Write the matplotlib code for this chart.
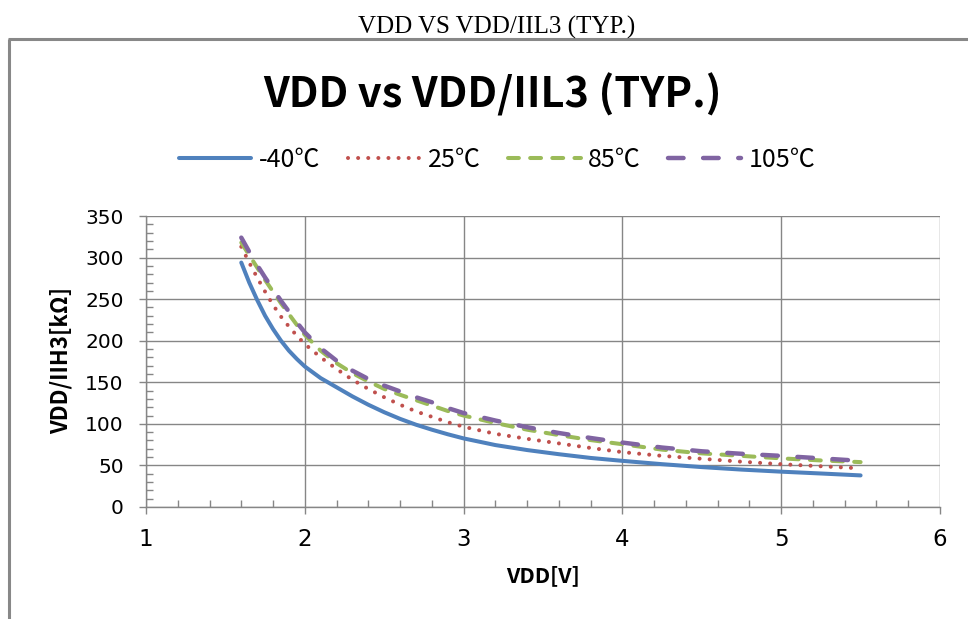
import matplotlib
matplotlib.use("Agg")
import matplotlib.pyplot as plt
from matplotlib.ticker import MultipleLocator
from matplotlib.lines import Line2D

# ---- data ----
vdd = [1.6, 1.65, 1.7, 1.75, 1.8, 1.85, 1.9, 1.95, 2.0, 2.1, 2.2, 2.3, 2.4,
       2.5, 2.6, 2.7, 2.8, 2.9, 3.0, 3.2, 3.4, 3.6, 3.8, 4.0, 4.25, 4.5,
       4.75, 5.0, 5.25, 5.5]
r_m40 = [294, 270, 249, 230, 214, 200, 188, 178, 169, 155, 144, 133, 123,
         114, 106, 99, 93, 87.5, 82.5, 74.5, 68.5, 63.5, 59, 55.5, 51.5, 48,
         45, 42.5, 40.3, 38]
r_25 = [313, 294, 276, 259, 243, 229, 217, 206, 196, 180, 166, 153, 142,
        132, 123, 115, 108.5, 102, 96.5, 88, 82, 76.5, 71, 66, 61.5, 58,
        54.5, 51.5, 49, 46.5]
r_85 = [318, 303, 288, 273, 259, 245, 232, 219, 207, 188, 173, 161, 151,
        142, 135, 128.5, 122, 115.5, 110, 101, 93, 86.5, 80.5, 75.5, 69,
        64.5, 61.5, 58.5, 56, 54]
r_105 = [324, 307, 291, 276, 262, 248, 235, 222, 210, 191, 176, 164, 154,
         146, 139, 132, 126, 119, 113, 104, 96, 89, 83, 77.5, 71.5, 67,
         64, 61.5, 58.5, 55.5]
labels = ["-40℃", "25℃", "85℃", "105℃"]
colors = ["#4F81BD", "#C0504D", "#9BBB59", "#8064A2"]
xticks = [1, 2, 3, 4, 5, 6]
yticks = [0, 50, 100, 150, 200, 250, 300, 350]

W, H = 968, 619
fig = plt.figure(figsize=(W / 100, H / 100), dpi=100)
gray = "#868686"

# outer page title and chart frame
fig.text(497 / W, 1 - 27 / H, "VDD VS VDD/IIL3 (TYP.)", ha="center", va="center",
         family="Liberation Serif", fontsize=18)
fig.add_artist(Line2D([9 / W, 9 / W], [0, 1 - 38.5 / H], transform=fig.transFigure,
                      color="#888888", lw=2.2, solid_capstyle="butt"))
fig.add_artist(Line2D([7.5 / W, 1], [1 - 38.5 / H, 1 - 38.5 / H], transform=fig.transFigure,
                      color="#888888", lw=2.2, solid_capstyle="butt"))

# chart title
fig.text(492 / W, 1 - 95 / H, "VDD vs VDD/IIL3 (TYP.)", ha="center", va="center",
         family=["Noto Sans CJK KR", "DejaVu Sans"], fontweight="bold", fontsize=30)

ax = fig.add_axes([146 / W, 1 - 507 / H, (940 - 146) / W, (507 - 216) / H])
series = [r_m40, r_25, r_85, r_105]
styles = [
    dict(lw=2.9, linestyle="-", solid_capstyle="round", solid_joinstyle="round"),
    dict(lw=2.9, linestyle=(0, (0.01, 2.5)), dash_capstyle="round"),
    dict(lw=2.9, linestyle=(0, (2.7, 2.8)), dash_capstyle="round"),
    dict(lw=3.2, linestyle=(0, (3.5, 4.4)), dash_capstyle="round"),
]
handles = []
for ys, c, lab, st in zip(series, colors, labels, styles):
    h, = ax.plot(vdd, ys, color=c, label=lab, **st)
    handles.append(h)

ax.set_xlim(1, 6)
ax.set_ylim(0, 350)
ax.set_xticks(xticks)
ax.set_yticks(yticks)
ax.xaxis.set_minor_locator(MultipleLocator(0.2))
ax.yaxis.set_minor_locator(MultipleLocator(10))
ax.grid(True, which="major", color=gray, lw=1.0)
ax.set_axisbelow(True)
for s in ["top", "right"]:
    ax.spines[s].set_visible(False)
for s in ["left", "bottom"]:
    ax.spines[s].set_color(gray)
    ax.spines[s].set_linewidth(1.0)
ax.tick_params(which="major", direction="out", length=5, width=1.0, color=gray)
ax.tick_params(which="minor", direction="in", length=5, width=1.0, color=gray)
ax.tick_params(axis="y", which="major", pad=11, labelsize=14.5)
ax.tick_params(axis="x", which="major", pad=10, labelsize=16.5)
for t in ax.get_yticklabels():
    t.set_family("DejaVu Sans")
for t in ax.get_xticklabels():
    t.set_family("DejaVu Sans")

fig.text(543 / W, 1 - 576 / H, "VDD[V]", ha="center", va="center",
         family=["Noto Sans CJK KR", "DejaVu Sans"], fontweight="bold", fontsize=15.5)
fig.text(61 / W, 1 - 361 / H, "VDD/IIH3[kΩ]", ha="center", va="center", rotation=90,
         family=["Noto Sans CJK KR", "DejaVu Sans"], fontweight="bold", fontsize=16)

fig.legend(handles=handles, labels=labels, loc="center", ncol=4,
           bbox_to_anchor=(497 / W, 1 - 160 / H), frameon=False,
           prop={"family": ["Noto Sans CJK KR", "DejaVu Sans"], "size": 18},
           handlelength=2.9, handletextpad=0.3, columnspacing=1.1)

fig.savefig("out.png", dpi=100)
